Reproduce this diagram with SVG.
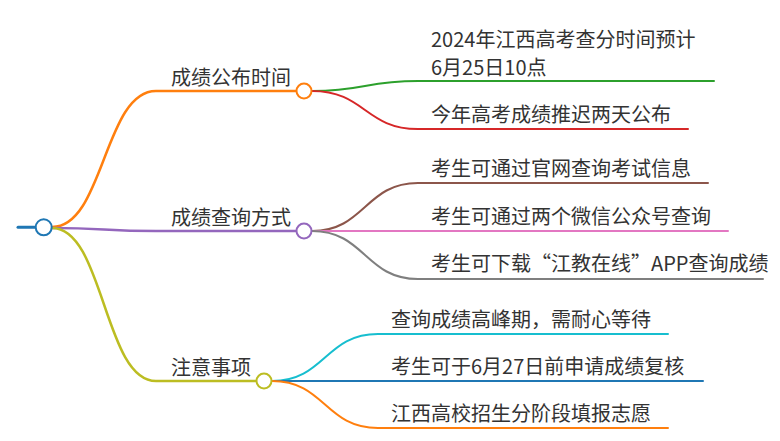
<svg xmlns="http://www.w3.org/2000/svg" width="780" height="441" viewBox="0 0 780 441">
<style>
.l{fill:none;stroke-linecap:round}
.l1{stroke-width:2.5}
.l2{stroke-width:2}
.c{fill:#fff;stroke-width:2}
text{font-family:"Noto Sans CJK SC","Noto Sans",sans-serif;font-size:20px;fill:#333}
.e{text-anchor:end}
</style>
<rect width="780" height="441" fill="#fff"/>
<g id="connectors">
<path class="l" d="M18,227.3H36" stroke="#1f77b4" stroke-width="3"/>
<path class="l l1" d="M52,227 C104,227 104,91 156,91 H296" stroke="#ff7f0e"/>
<path class="l l1" d="M52,228 C104,228 104,231 156,231 H296" stroke="#9467bd"/>
<path class="l l1" d="M52,228 C104,228 104,381 156,381 H256" stroke="#bcbd22"/>
<path class="l l2" d="M312,91 C365,91 365,81 418,81 H714" stroke="#2ca02c"/>
<path class="l l2" d="M312,91 C365,91 365,129 418,129 H688" stroke="#d62728"/>
<path class="l l2" d="M312,231 C365,231 365,183 418,183 H708" stroke="#8c564b"/>
<path class="l l2" d="M312,231 H728" stroke="#e377c2"/>
<path class="l l2" d="M312,231 C365,231 365,279 418,279 H763" stroke="#7f7f7f"/>
<path class="l l2" d="M272,381 C325,381 325,334 378,334 H668" stroke="#17becf"/>
<path class="l l2" d="M272,381 H703" stroke="#1f77b4"/>
<path class="l l2" d="M272,381 C325,381 325,428 378,428 H668" stroke="#ff7f0e"/>
</g>
<g id="root"><circle class="c" cx="43.7" cy="227.3" r="8" stroke="#1f77b4"/></g>
<g id="n1"><text class="e" x="291" y="85">成绩公布时间</text><circle class="c" cx="304" cy="91" r="7.5" stroke="#ff7f0e"/></g>
<g id="n2"><text class="e" x="291" y="225">成绩查询方式</text><circle class="c" cx="304" cy="231" r="7.5" stroke="#9467bd"/></g>
<g id="n3"><text class="e" x="251" y="375">注意事项</text><circle class="c" cx="264" cy="381" r="7.5" stroke="#bcbd22"/></g>
<g id="n1a"><text x="431" y="47">2024年江西高考查分时间预计</text><text x="431" y="75">6月25日10点</text></g>
<g id="n1b"><text x="431" y="122">今年高考成绩推迟两天公布</text></g>
<g id="n2a"><text x="431" y="176">考生可通过官网查询考试信息</text></g>
<g id="n2b"><text x="431" y="224">考生可通过两个微信公众号查询</text></g>
<g id="n2c"><text x="431" y="271">考生可下载“江教在线”APP查询成绩</text></g>
<g id="n3a"><text x="391" y="327">查询成绩高峰期，需耐心等待</text></g>
<g id="n3b"><text x="391" y="374">考生可于6月27日前申请成绩复核</text></g>
<g id="n3c"><text x="391" y="421">江西高校招生分阶段填报志愿</text></g>
</svg>
